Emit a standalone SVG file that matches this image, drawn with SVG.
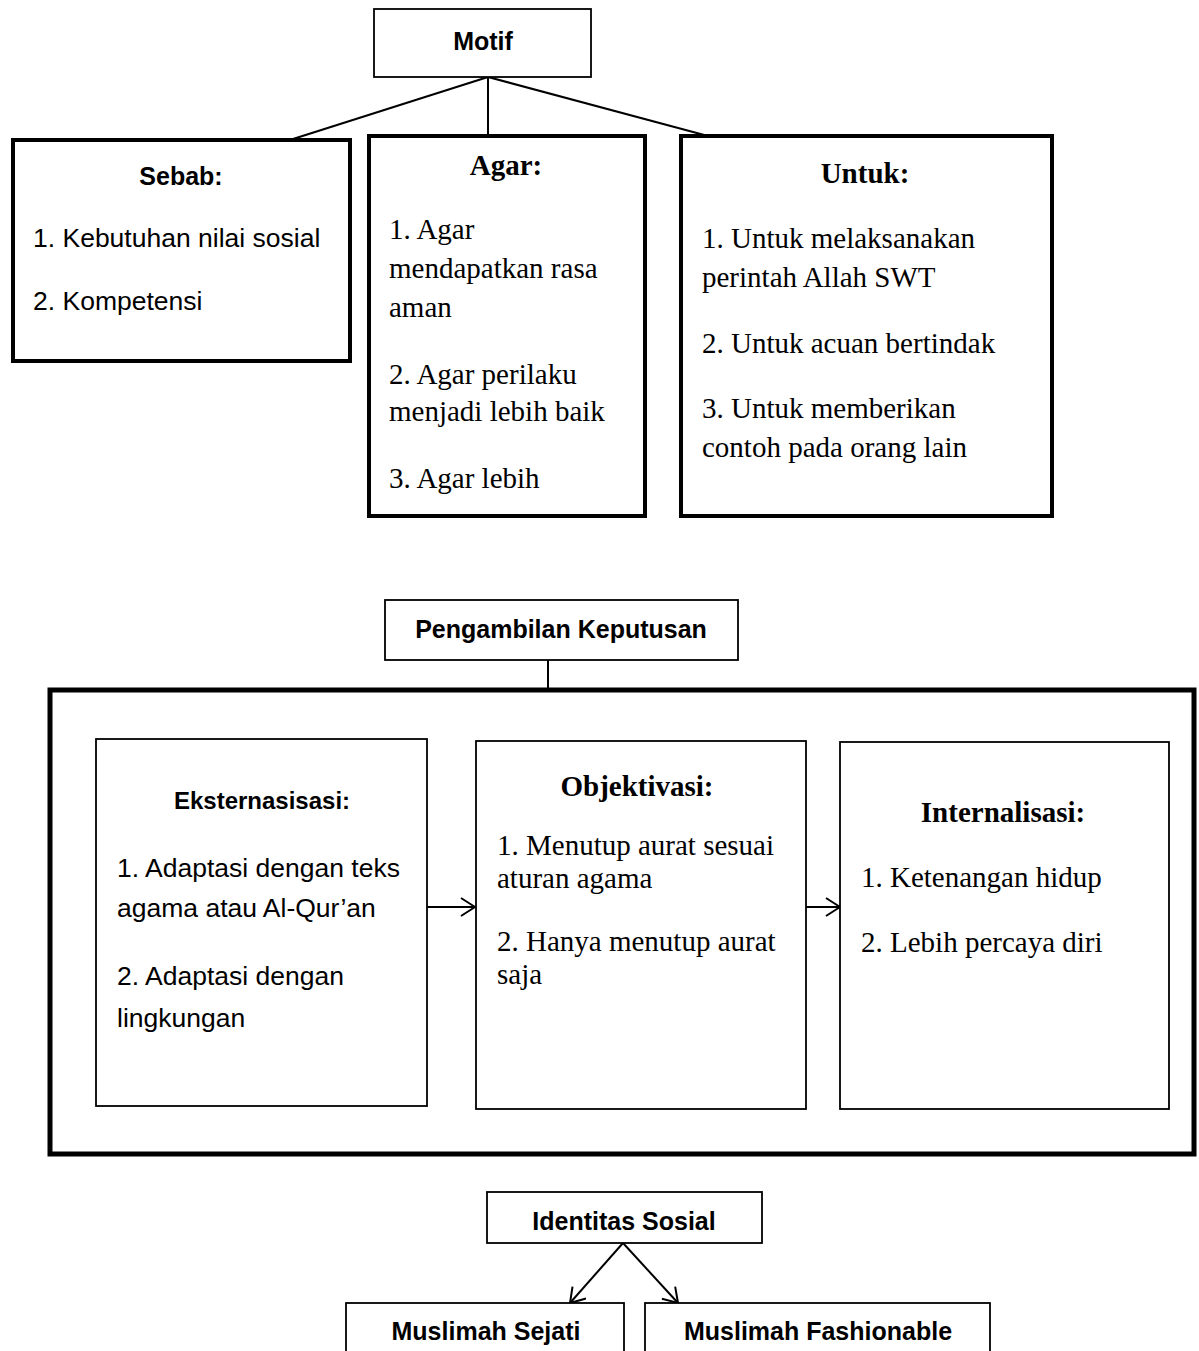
<svg xmlns="http://www.w3.org/2000/svg" width="1199" height="1351" viewBox="0 0 1199 1351">
<style>
.bg{fill:#fff}
.thin{fill:#fff;stroke:#000;stroke-width:1.8}
.thick{fill:#fff;stroke:#000;stroke-width:4}
.big{fill:none;stroke:#000;stroke-width:5}
.ln{stroke:#000;stroke-width:2;fill:none}
.sb{font-family:"Liberation Sans",Arial,sans-serif;font-weight:bold;font-size:25px;fill:#000;text-anchor:middle}
.s{font-family:"Liberation Sans",Arial,sans-serif;font-size:26.5px;fill:#000}
.tb{font-family:"Liberation Serif","Times New Roman",serif;font-weight:bold;font-size:29px;fill:#000;text-anchor:middle}
.t{font-family:"Liberation Serif","Times New Roman",serif;font-size:29px;fill:#000}
</style>
<defs>
<marker id="ah" viewBox="0 0 16 20" refX="15" refY="10" markerWidth="16" markerHeight="20" markerUnits="userSpaceOnUse" orient="auto">
<path d="M1,1 L15,10 L1,19" fill="none" stroke="#000" stroke-width="2"/>
</marker>
</defs>
<rect class="bg" x="0" y="0" width="1199" height="1351"/>

<g id="connectors">
<line class="ln" x1="488" y1="77" x2="293" y2="139"/>
<line class="ln" x1="488" y1="77" x2="488" y2="135"/>
<line class="ln" x1="488" y1="77" x2="708" y2="136"/>
<line class="ln" x1="548" y1="660" x2="548" y2="688"/>
<line class="ln" x1="427" y1="907" x2="475" y2="907" marker-end="url(#ah)"/>
<line class="ln" x1="806" y1="907" x2="840" y2="907" marker-end="url(#ah)"/>
<line class="ln" x1="623" y1="1243" x2="570" y2="1303" marker-end="url(#ah)"/>
<line class="ln" x1="623" y1="1243" x2="678" y2="1303" marker-end="url(#ah)"/>
</g>

<g id="motif">
<rect class="thin" x="374" y="9" width="217" height="68"/>
<text class="sb" x="483" y="50">Motif</text>
</g>

<g id="sebab">
<rect class="thick" x="13" y="140" width="337" height="221"/>
<text class="sb" x="181" y="185">Sebab:</text>
<text class="s" x="33" y="247">1. Kebutuhan nilai sosial</text>
<text class="s" x="33" y="310">2. Kompetensi</text>
</g>

<g id="agar">
<rect class="thick" x="369" y="136" width="276" height="380"/>
<text class="tb" x="506" y="175">Agar:</text>
<text class="t" x="389" y="239">1. Agar</text>
<text class="t" x="389" y="278">mendapatkan rasa</text>
<text class="t" x="389" y="317">aman</text>
<text class="t" x="389" y="384">2. Agar perilaku</text>
<text class="t" x="389" y="421">menjadi lebih baik</text>
<text class="t" x="389" y="488">3. Agar lebih</text>
</g>

<g id="untuk">
<rect class="thick" x="681" y="136" width="371" height="380"/>
<text class="tb" x="865" y="183">Untuk:</text>
<text class="t" x="702" y="248">1. Untuk melaksanakan</text>
<text class="t" x="702" y="287">perintah Allah SWT</text>
<text class="t" x="702" y="353">2. Untuk acuan bertindak</text>
<text class="t" x="702" y="418">3. Untuk memberikan</text>
<text class="t" x="702" y="457">contoh pada orang lain</text>
</g>

<g id="pengambilan">
<rect class="thin" x="385" y="600" width="353" height="60"/>
<text class="sb" x="561" y="638">Pengambilan Keputusan</text>
</g>

<g id="container">
<rect class="big" x="50" y="690" width="1144" height="464"/>
</g>

<g id="eksternasisasi">
<rect class="thin" x="96" y="739" width="331" height="367"/>
<text class="sb" x="262" y="809" style="font-size:24px">Eksternasisasi:</text>
<text class="s" x="117" y="877">1. Adaptasi dengan teks</text>
<text class="s" x="117" y="917">agama atau Al-Qur’an</text>
<text class="s" x="117" y="985">2. Adaptasi dengan</text>
<text class="s" x="117" y="1027">lingkungan</text>
</g>

<g id="objektivasi">
<rect class="thin" x="476" y="741" width="330" height="368"/>
<text class="tb" x="637" y="796">Objektivasi:</text>
<text class="t" x="497" y="855">1. Menutup aurat sesuai</text>
<text class="t" x="497" y="888">aturan agama</text>
<text class="t" x="497" y="951">2. Hanya menutup aurat</text>
<text class="t" x="497" y="984">saja</text>
</g>

<g id="internalisasi">
<rect class="thin" x="840" y="742" width="329" height="367"/>
<text class="tb" x="1003" y="822">Internalisasi:</text>
<text class="t" x="861" y="887">1. Ketenangan hidup</text>
<text class="t" x="861" y="952">2. Lebih percaya diri</text>
</g>

<g id="identitas">
<rect class="thin" x="487" y="1192" width="275" height="51"/>
<text class="sb" x="624" y="1230">Identitas Sosial</text>
</g>

<g id="sejati">
<rect class="thin" x="346" y="1303" width="278" height="70"/>
<text class="sb" x="486" y="1340">Muslimah Sejati</text>
</g>

<g id="fashionable">
<rect class="thin" x="645" y="1303" width="345" height="70"/>
<text class="sb" x="818" y="1340">Muslimah Fashionable</text>
</g>
</svg>
